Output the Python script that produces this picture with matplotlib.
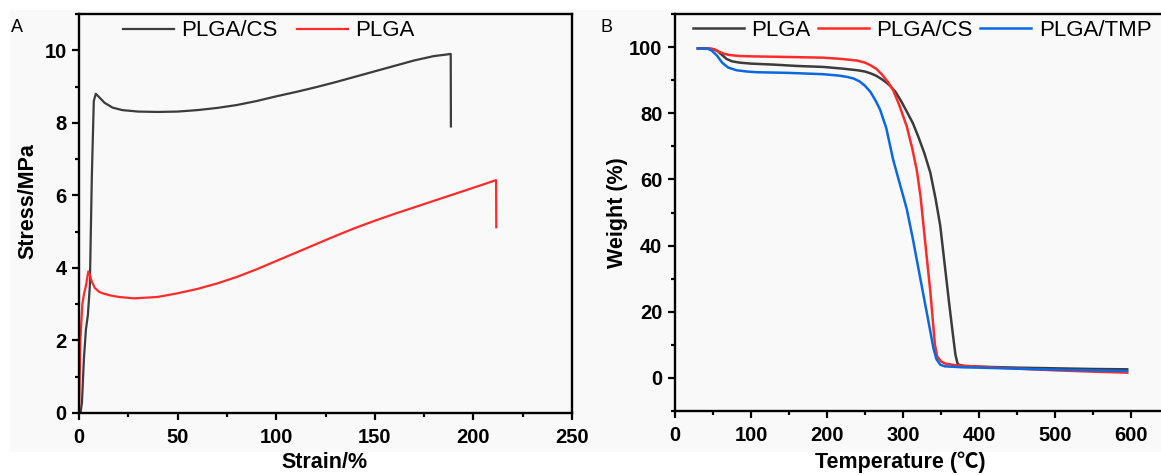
import matplotlib
matplotlib.use("Agg")
import matplotlib.pyplot as plt
from matplotlib.patches import Rectangle
from matplotlib.ticker import MultipleLocator

# ---------------- data ----------------
# (A) tensile stress-strain curves
strain_plga_cs = [0.8, 1.5, 2.5, 3.5, 4.5, 5.5, 6.5, 7.5, 8.5, 10, 13, 17, 22, 30, 40, 50,
                  60, 70, 80, 90, 100, 110, 120, 130, 140, 150, 160, 170, 180, 186, 188.5, 188.6]
stress_plga_cs = [0.0, 0.3, 1.5, 2.3, 2.7, 3.5, 6.5, 8.6, 8.8, 8.72, 8.55, 8.42, 8.35, 8.31, 8.3, 8.31,
                  8.35, 8.41, 8.49, 8.6, 8.73, 8.85, 8.98, 9.12, 9.27, 9.42, 9.57, 9.72, 9.84, 9.88, 9.9, 7.9]

strain_plga = [0.0, 0.7, 1.7, 2.6, 3.5, 4.7, 5.5, 6.5, 8, 10, 12, 16, 20, 28, 40, 50, 60, 70,
               80, 90, 100, 110, 120, 130, 140, 150, 160, 170, 180, 190, 200, 211.5, 211.6]
stress_plga = [0.0, 2.0, 3.0, 3.3, 3.5, 3.9, 3.8, 3.62, 3.45, 3.35, 3.3, 3.24, 3.2, 3.16, 3.2, 3.3, 3.42, 3.57,
               3.75, 3.96, 4.19, 4.42, 4.65, 4.88, 5.1, 5.3, 5.49, 5.67, 5.85, 6.03, 6.21, 6.42, 5.12]

# (B) thermogravimetric curves
temp_plga = [30, 40, 50, 56, 62, 68, 75, 85, 100, 130, 160, 195, 220, 240, 250, 258, 265, 272, 278,
             283, 290, 298, 305, 313, 320, 328, 336, 343, 349, 353, 357, 361, 366, 369, 372, 380,
             400, 450, 500, 550, 595]
weight_plga = [99.6, 99.6, 99.4, 98.8, 97.6, 96.4, 95.7, 95.3, 95.0, 94.7, 94.3, 94.0, 93.5, 93.0, 92.6,
               92.0, 91.3, 90.3, 89.3, 88.3, 86.5, 83.5, 80.5, 77.0, 73.0, 68.0, 62.0, 54.0, 46.0,
               38.0, 30.0, 22.0, 12.5, 7.0, 4.1, 3.6, 3.4, 3.1, 2.9, 2.7, 2.6]

temp_plga_cs = [30, 45, 52, 58, 64, 72, 85, 100, 150, 195, 220, 240, 250, 258, 265, 272, 280, 287, 295,
                305, 312, 318, 323, 327, 331, 336, 339, 342, 345, 350, 356, 370, 400, 450, 500, 550, 595]
weight_plga_cs = [99.6, 99.6, 99.3, 98.6, 98.0, 97.6, 97.3, 97.2, 97.0, 96.8, 96.4, 95.9, 95.3, 94.4,
                  93.4, 91.8, 89.5, 87.0, 82.5, 76.0, 69.5, 63.0, 55.0, 46.0, 37.0, 26.0, 18.0, 10.0,
                  6.5, 5.0, 4.3, 3.8, 3.4, 2.8, 2.3, 1.9, 1.6]

temp_plga_tmp = [30, 42, 48, 55, 62, 70, 81, 95, 108, 150, 195, 215, 226, 235, 243, 250, 257, 264, 270,
                 278, 287, 296, 305, 313, 322, 329, 336, 340, 344, 349, 355, 380, 400, 450, 500, 550, 595]
weight_plga_tmp = [99.6, 99.6, 99.0, 97.5, 95.3, 93.8, 93.0, 92.6, 92.4, 92.2, 91.8, 91.4, 91.0, 90.5,
                   89.6, 88.3, 86.5, 83.8, 81.0, 75.5, 66.0, 58.5, 51.0, 42.0, 31.0, 22.5, 14.0, 9.0,
                   5.7, 4.0, 3.5, 3.2, 3.1, 2.8, 2.5, 2.3, 2.1]

labels_a = ["PLGA/CS", "PLGA"]
labels_b = ["PLGA", "PLGA/CS", "PLGA/TMP"]

GRAY = "#3c3c3c"
RED = "#ff2b2b"
BLUE = "#0a68e0"
BG = "#f9f9f9"

plt.rcParams["font.family"] = ["Liberation Sans", "Noto Sans CJK SC", "DejaVu Sans"]

W, H = 1161, 475
fig = plt.figure(figsize=(W / 100, H / 100), dpi=100)
fig.patch.set_facecolor("white")
fig.add_artist(Rectangle((10 / W, (H - 452) / H), (W - 10) / W, (452 - 10) / H,
                         transform=fig.transFigure, facecolor=BG, edgecolor="none", zorder=0))


def px_axes(left, top, right, bottom):
    return fig.add_axes([left / W, 1 - bottom / H, (right - left) / W, (bottom - top) / H])


def style(ax):
    ax.set_facecolor(BG)
    for s in ax.spines.values():
        s.set_linewidth(1.7)
        s.set_color("black")
    ax.tick_params(which="major", direction="out", length=5, width=1.6, labelsize=14.5, pad=4)
    ax.tick_params(axis="x", which="major", pad=6)
    ax.tick_params(which="minor", direction="out", length=3, width=1.6)
    for lab in ax.get_xticklabels() + ax.get_yticklabels():
        lab.set_fontweight("bold")


# ---------------- panel A ----------------
axA = px_axes(79, 14, 572, 413)
axA.plot(strain_plga_cs, stress_plga_cs, color=GRAY, lw=1.6, label=labels_a[0])
axA.plot(strain_plga, stress_plga, color=RED, lw=1.6, label=labels_a[1])
axA.set_xlim(0, 250)
axA.set_ylim(0, 11)
axA.xaxis.set_major_locator(MultipleLocator(50))
axA.xaxis.set_minor_locator(MultipleLocator(25))
axA.yaxis.set_major_locator(MultipleLocator(2))
axA.yaxis.set_minor_locator(MultipleLocator(1))
style(axA)
axA.legend(loc="center left", bbox_to_anchor=(123 / W, 1 - 31 / H), bbox_transform=fig.transFigure,
           frameon=False, ncol=2, fontsize=16, handlelength=2.3, handletextpad=0.33,
           columnspacing=0.85, borderpad=0, borderaxespad=0)

# ---------------- panel B ----------------
axB = px_axes(675, 14, 1169, 411)
axB.plot(temp_plga, weight_plga, color=GRAY, lw=1.8, label=labels_b[0])
axB.plot(temp_plga_cs, weight_plga_cs, color=RED, lw=1.8, label=labels_b[1])
axB.plot(temp_plga_tmp, weight_plga_tmp, color=BLUE, lw=1.8, label=labels_b[2])
axB.set_xlim(0, 650)
axB.set_ylim(-10, 110)
axB.xaxis.set_major_locator(MultipleLocator(100))
axB.xaxis.set_minor_locator(MultipleLocator(50))
axB.yaxis.set_major_locator(MultipleLocator(20))
axB.yaxis.set_minor_locator(MultipleLocator(10))
style(axB)
axB.legend(loc="center left", bbox_to_anchor=(693 / W, 1 - 30 / H), bbox_transform=fig.transFigure,
           frameon=False, ncol=3, fontsize=16, handlelength=2.3, handletextpad=0.33,
           columnspacing=0.33, borderpad=0, borderaxespad=0)

# ---------------- labels ----------------
def ftext(x, y, s, **kw):
    fig.text(x / W, 1 - y / H, s, ha="center", va="center", **kw)


ftext(28, 201, "Stress/MPa", fontsize=15.5, fontweight="bold", rotation=90)
ftext(325, 463, "Strain/%", fontsize=15.5, fontweight="bold")
ftext(618, 213, "Weight (%)", fontsize=15.5, fontweight="bold", rotation=90)
ftext(900, 462, "Temperature (℃)", fontsize=15.5, fontweight="bold")
ftext(17, 28, "A", fontsize=13)
ftext(607, 28, "B", fontsize=13)

fig.savefig("out.png", dpi=100, facecolor=fig.get_facecolor())
